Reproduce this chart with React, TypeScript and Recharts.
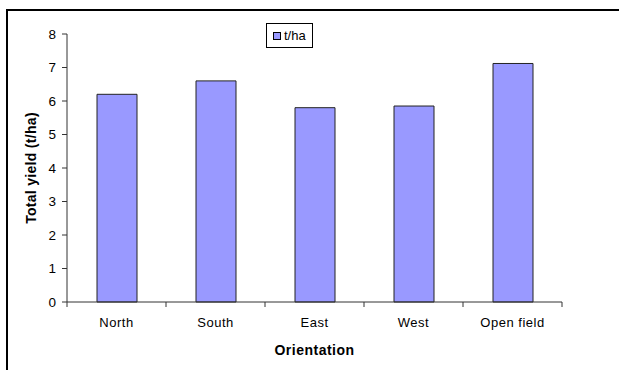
import React from "react";
import { BarChart, Bar, XAxis, YAxis, Legend } from "recharts";

const orientations = ["North", "South", "East", "West", "Open field"];
const yieldTha = [6.2, 6.6, 5.8, 5.85, 7.12];
const yTicks = [0, 1, 2, 3, 4, 5, 6, 7, 8];

const data = orientations.map((o, i) => ({ orientation: o, tha: yieldTha[i] }));

const W = 619;
const H = 370;
const margin = { top: 34, right: 57, left: 0, bottom: 0 };
const yAxisW = 67;
const halfBand = (W - margin.left - margin.right - yAxisW) / orientations.length / 2;
const font = "'Liberation Sans', Arial, sans-serif";
const axisColor = "#333";

// Excel-style: tick marks sit between categories, not under them
const CategoryTick = (props: any) => {
  const { x, y, payload, index } = props;
  const top = y - 16;
  return (
    <g>
      <line x1={x - halfBand} x2={x - halfBand} y1={top} y2={top + 5} stroke={axisColor} />
      {index === orientations.length - 1 && (
        <line x1={x + halfBand} x2={x + halfBand} y1={top} y2={top + 5} stroke={axisColor} />
      )}
      <text x={x} y={y} dy="0.71em" textAnchor="middle" fontSize={13} fill="#000" fontFamily={font} letterSpacing={0.5}>
        {payload.value}
      </text>
    </g>
  );
};

const LegendBox = () => (
  <div
    style={{
      boxSizing: "border-box",
      width: 47,
      height: 25,
      border: "1px solid #000",
      background: "#fff",
      display: "flex",
      alignItems: "center",
      paddingLeft: 6,
      fontFamily: font,
      fontSize: 13,
      color: "#000",
    }}
  >
    <span
      style={{
        display: "inline-block",
        width: 8,
        height: 8,
        boxSizing: "border-box",
        background: "#9999FF",
        border: "1px solid #000",
        marginRight: 3,
      }}
    />
    t/ha
  </div>
);

export default function App() {
  return (
    <div style={{ position: "absolute", left: 0, top: 0, width: W, height: H, background: "#fff", overflow: "hidden" }}>
      <div
        style={{
          position: "absolute",
          left: 6,
          top: 9,
          width: W + 60,
          height: H + 60,
          border: "2px solid #000",
        }}
      />
      <BarChart width={W} height={H} data={data} margin={margin} barSize={40}>
        <XAxis
          dataKey="orientation"
          height={H - 302}
          axisLine={{ stroke: axisColor }}
          tickLine={false}
          tickSize={5}
          tickMargin={11}
          interval={0}
          tick={<CategoryTick />}
          label={{
            value: "Orientation",
            position: "insideBottom",
            offset: 15,
            fill: "#000",
            fontSize: 14,
            fontWeight: "bold",
            fontFamily: font,
            letterSpacing: 0.5,
          }}
        />
        <YAxis
          width={yAxisW}
          domain={[0, 8]}
          ticks={yTicks}
          interval={0}
          axisLine={{ stroke: axisColor }}
          tickLine={{ stroke: axisColor }}
          tickSize={5}
          tickMargin={6}
          tick={{ fill: "#000", fontSize: 13.5, fontFamily: font }}
          label={{
            value: "Total yield (t/ha)",
            angle: -90,
            position: "center",
            dx: -2,
            fill: "#000",
            fontSize: 14,
            fontWeight: "bold",
            fontFamily: font,
            letterSpacing: 0.3,
          }}
        />
        <Legend
          layout="horizontal"
          verticalAlign="middle"
          align="center"
          wrapperStyle={{ left: 266, top: 23, width: 47, height: 25 }}
          content={() => <LegendBox />}
        />
        <Bar dataKey="tha" name="t/ha" fill="#9999FF" stroke="#222" strokeWidth={1} isAnimationActive={false} />
      </BarChart>
    </div>
  );
}
